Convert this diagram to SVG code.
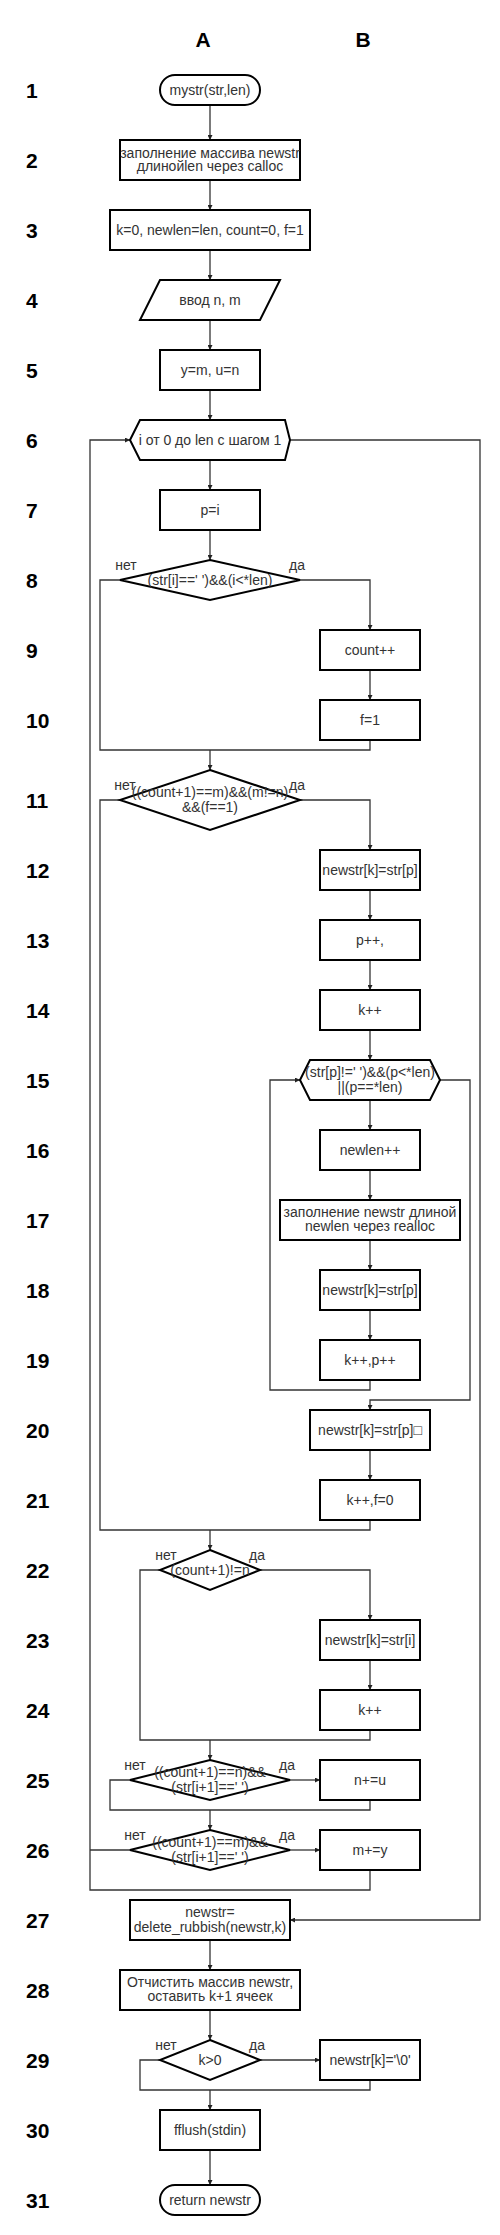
<svg xmlns="http://www.w3.org/2000/svg" width="500" height="2235" viewBox="0 0 500 2235">
<defs>
<marker id="ar" viewBox="0 0 8 8" markerWidth="5" markerHeight="5" refX="8" refY="4" orient="auto" markerUnits="userSpaceOnUse"><path d="M0,0 L8,4 L0,8 z" fill="#222"/></marker>
<style>
.n{fill:#fff;stroke:#000;stroke-width:2}
.t{font-family:"Liberation Sans",Arial,sans-serif;font-size:14px;fill:#333;text-anchor:middle}
.l{font-family:"Liberation Sans",Arial,sans-serif;font-size:21px;font-weight:bold;fill:#000}
.c{fill:none;stroke:#333;stroke-width:1.3}
.a{marker-end:url(#ar)}
</style>
</defs>
<rect width="500" height="2235" fill="#fff"/>
<g id="headers">
<text class="l" x="203" y="47" text-anchor="middle">A</text>
<text class="l" x="363" y="47" text-anchor="middle">B</text>
</g>
<g id="rows">
<text class="l" x="26" y="98">1</text>
<text class="l" x="26" y="168">2</text>
<text class="l" x="26" y="238">3</text>
<text class="l" x="26" y="308">4</text>
<text class="l" x="26" y="378">5</text>
<text class="l" x="26" y="448">6</text>
<text class="l" x="26" y="518">7</text>
<text class="l" x="26" y="588">8</text>
<text class="l" x="26" y="658">9</text>
<text class="l" x="26" y="728">10</text>
<text class="l" x="26" y="808">11</text>
<text class="l" x="26" y="878">12</text>
<text class="l" x="26" y="948">13</text>
<text class="l" x="26" y="1018">14</text>
<text class="l" x="26" y="1088">15</text>
<text class="l" x="26" y="1158">16</text>
<text class="l" x="26" y="1228">17</text>
<text class="l" x="26" y="1298">18</text>
<text class="l" x="26" y="1368">19</text>
<text class="l" x="26" y="1438">20</text>
<text class="l" x="26" y="1508">21</text>
<text class="l" x="26" y="1578">22</text>
<text class="l" x="26" y="1648">23</text>
<text class="l" x="26" y="1718">24</text>
<text class="l" x="26" y="1788">25</text>
<text class="l" x="26" y="1858">26</text>
<text class="l" x="26" y="1928">27</text>
<text class="l" x="26" y="1998">28</text>
<text class="l" x="26" y="2068">29</text>
<text class="l" x="26" y="2138">30</text>
<text class="l" x="26" y="2208">31</text>
</g>
<g id="connectors">
<path class="c a" d="M210 105V140"/>
<path class="c a" d="M210 180V210"/>
<path class="c a" d="M210 250V280"/>
<path class="c a" d="M210 320V350"/>
<path class="c a" d="M210 390V420"/>
<path class="c a" d="M210 460V490"/>
<path class="c a" d="M210 530V560"/>
<path class="c" d="M120 580H100V750H370V740"/>
<path class="c a" d="M300 580H370V630"/>
<path class="c a" d="M370 670V700"/>
<path class="c a" d="M210 750V770"/>
<path class="c" d="M120 800H100V1530H370V1520"/>
<path class="c a" d="M300 800H370V850"/>
<path class="c a" d="M370 890V920"/>
<path class="c a" d="M370 960V990"/>
<path class="c a" d="M370 1030V1060"/>
<path class="c a" d="M370 1100V1130"/>
<path class="c a" d="M370 1170V1200"/>
<path class="c a" d="M370 1240V1270"/>
<path class="c a" d="M370 1310V1340"/>
<path class="c a" d="M370 1380V1390H270V1080H300"/>
<path class="c a" d="M440 1080H470V1400H370V1410"/>
<path class="c a" d="M370 1450V1480"/>
<path class="c a" d="M210 1530V1550"/>
<path class="c" d="M160 1570H140V1740H370V1730"/>
<path class="c a" d="M260 1570H370V1620"/>
<path class="c a" d="M370 1660V1690"/>
<path class="c a" d="M210 1740V1760"/>
<path class="c a" d="M290 1780H320"/>
<path class="c" d="M130 1780H110V1810H370V1800"/>
<path class="c a" d="M210 1810V1830"/>
<path class="c a" d="M290 1850H320"/>
<path class="c" d="M130 1850H90"/>
<path class="c a" d="M370 1870V1890H90V440H130"/>
<path class="c a" d="M290 440H480V1920H290"/>
<path class="c a" d="M210 1940V1970"/>
<path class="c a" d="M210 2010V2040"/>
<path class="c a" d="M260 2060H320"/>
<path class="c" d="M160 2060H140V2090H370V2080"/>
<path class="c a" d="M210 2090V2110"/>
<path class="c a" d="M210 2150V2185"/>
<text class="t" x="126" y="570">нет</text>
<text class="t" x="297" y="570">да</text>
<text class="t" x="125" y="790">нет</text>
<text class="t" x="297" y="790">да</text>
<text class="t" x="166" y="1560">нет</text>
<text class="t" x="257" y="1560">да</text>
<text class="t" x="135" y="1770">нет</text>
<text class="t" x="287" y="1770">да</text>
<text class="t" x="135" y="1840">нет</text>
<text class="t" x="287" y="1840">да</text>
<text class="t" x="166" y="2050">нет</text>
<text class="t" x="257" y="2050">да</text>
</g>
<g id="n1"><rect class="n" x="160" y="75" width="100" height="30" rx="15"/><text class="t" x="210" y="95">mystr(str,len)</text></g>
<g id="n2"><rect class="n" x="120" y="140" width="180" height="40"/><text class="t" x="210" y="158">заполнение массива newstr</text><text class="t" x="210" y="171">длинойlen через calloc</text></g>
<g id="n3"><rect class="n" x="110" y="210" width="200" height="40"/><text class="t" x="210" y="235">k=0, newlen=len, count=0, f=1</text></g>
<g id="n4"><polygon class="n" points="160,280 280,280 260,320 140,320"/><text class="t" x="210" y="305">ввод n, m</text></g>
<g id="n5"><rect class="n" x="160" y="350" width="100" height="40"/><text class="t" x="210" y="375">y=m, u=n</text></g>
<g id="n6"><polygon class="n" points="130,440 140,420 285,420 290,440 285,460 140,460"/><text class="t" x="210" y="445">i от 0 до len с шагом 1</text></g>
<g id="n7"><rect class="n" x="160" y="490" width="100" height="40"/><text class="t" x="210" y="515">p=i</text></g>
<g id="n8"><polygon class="n" points="210,560 300,580 210,600 120,580"/><text class="t" x="210" y="585">(str[i]=='  ')&amp;&amp;(i&lt;*len)</text></g>
<g id="n9"><rect class="n" x="320" y="630" width="100" height="40"/><text class="t" x="370" y="655">count++</text></g>
<g id="n10"><rect class="n" x="320" y="700" width="100" height="40"/><text class="t" x="370" y="725">f=1</text></g>
<g id="n11"><polygon class="n" points="210,770 300,800 210,830 120,800"/><text class="t" x="210" y="797">((count+1)==m)&amp;&amp;(m!=n)</text><text class="t" x="210" y="812">&amp;&amp;(f==1)</text></g>
<g id="n12"><rect class="n" x="320" y="850" width="100" height="40"/><text class="t" x="370" y="875">newstr[k]=str[p]</text></g>
<g id="n13"><rect class="n" x="320" y="920" width="100" height="40"/><text class="t" x="370" y="945">p++,</text></g>
<g id="n14"><rect class="n" x="320" y="990" width="100" height="40"/><text class="t" x="370" y="1015">k++</text></g>
<g id="n15"><polygon class="n" points="300,1080 310,1060 430,1060 440,1080 430,1100 310,1100"/><text class="t" x="370" y="1077">(str[p]!=' ')&amp;&amp;(p&lt;*len)</text><text class="t" x="370" y="1092">||(p==*len)</text></g>
<g id="n16"><rect class="n" x="320" y="1130" width="100" height="40"/><text class="t" x="370" y="1155">newlen++</text></g>
<g id="n17"><rect class="n" x="280" y="1200" width="180" height="40"/><text class="t" x="370" y="1217">заполнение newstr длиной</text><text class="t" x="370" y="1231">newlen через realloc</text></g>
<g id="n18"><rect class="n" x="320" y="1270" width="100" height="40"/><text class="t" x="370" y="1295">newstr[k]=str[p]</text></g>
<g id="n19"><rect class="n" x="320" y="1340" width="100" height="40"/><text class="t" x="370" y="1365">k++,p++</text></g>
<g id="n20"><rect class="n" x="310" y="1410" width="120" height="40"/><text class="t" x="370" y="1435">newstr[k]=str[p]□</text></g>
<g id="n21"><rect class="n" x="320" y="1480" width="100" height="40"/><text class="t" x="370" y="1505">k++,f=0</text></g>
<g id="n22"><polygon class="n" points="210,1550 260,1570 210,1590 160,1570"/><text class="t" x="210" y="1575">(count+1)!=n</text></g>
<g id="n23"><rect class="n" x="320" y="1620" width="100" height="40"/><text class="t" x="370" y="1645">newstr[k]=str[i]</text></g>
<g id="n24"><rect class="n" x="320" y="1690" width="100" height="40"/><text class="t" x="370" y="1715">k++</text></g>
<g id="n25"><polygon class="n" points="210,1760 290,1780 210,1800 130,1780"/><text class="t" x="210" y="1777">((count+1)==n)&amp;&amp;</text><text class="t" x="210" y="1792">(str[i+1]==' ')</text></g>
<g id="n25b"><rect class="n" x="320" y="1760" width="100" height="40"/><text class="t" x="370" y="1785">n+=u</text></g>
<g id="n26"><polygon class="n" points="210,1830 290,1850 210,1870 130,1850"/><text class="t" x="210" y="1847">((count+1)==m)&amp;&amp;</text><text class="t" x="210" y="1862">(str[i+1]==' ')</text></g>
<g id="n26b"><rect class="n" x="320" y="1830" width="100" height="40"/><text class="t" x="370" y="1855">m+=y</text></g>
<g id="n27"><rect class="n" x="130" y="1900" width="160" height="40"/><text class="t" x="210" y="1917">newstr=</text><text class="t" x="210" y="1932">delete_rubbish(newstr,k)</text></g>
<g id="n28"><rect class="n" x="120" y="1970" width="180" height="40"/><text class="t" x="210" y="1987">Отчистить массив newstr,</text><text class="t" x="210" y="2001">оставить k+1 ячеек</text></g>
<g id="n29"><polygon class="n" points="210,2040 260,2060 210,2080 160,2060"/><text class="t" x="210" y="2065">k&gt;0</text></g>
<g id="n29b"><rect class="n" x="320" y="2040" width="100" height="40"/><text class="t" x="370" y="2065">newstr[k]='\0'</text></g>
<g id="n30"><rect class="n" x="160" y="2110" width="100" height="40"/><text class="t" x="210" y="2135">fflush(stdin)</text></g>
<g id="n31"><rect class="n" x="160" y="2185" width="100" height="30" rx="15"/><text class="t" x="210" y="2205">return newstr</text></g>
</svg>
